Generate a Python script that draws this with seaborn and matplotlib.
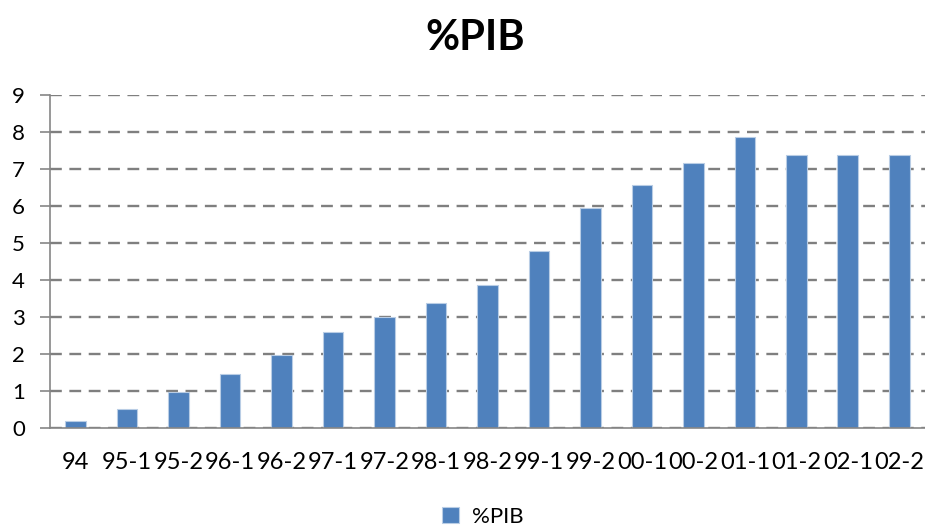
import seaborn as sns
import pandas as pd
from matplotlib import pyplot as plt

# data
periods = ['94', '95-1', '95-2', '96-1', '96-2', '97-1', '97-2', '98-1', '98-2',
           '99-1', '99-2', '00-1', '00-2', '01-1', '01-2', '02-1', '02-2']
pib = [0.20, 0.52, 0.98, 1.45, 1.96, 2.60, 3.01, 3.38, 3.85,
       4.79, 5.93, 6.56, 7.15, 7.86, 7.37, 7.37, 7.37]

df = pd.DataFrame({'Periodo': periods, '%PIB': pib})

sns.set_theme(style="white")
plt.rcParams['font.family'] = ['Lato', 'DejaVu Sans']
plt.rcParams['text.color'] = 'black'

fig = plt.figure(figsize=(9.25, 5.27), dpi=100)
ax = fig.add_axes([0.054, 0.188, 0.946, 0.632])

sns.barplot(data=df, x='Periodo', y='%PIB', color='#4F81BD', width=0.4,
            edgecolor='#B9CDE5', linewidth=0.8, saturation=1, label='%PIB', ax=ax)

ax.set(xlabel=None, ylabel=None)
ax.set_ylim(0, 9)
ax.set_xlim(-0.5, len(periods) - 0.5)
ax.set_yticks(range(0, 10))

# dashed gridlines
ax.yaxis.grid(True, linestyle=(0, (5, 3.2)), color='#7F7F7F', linewidth=1.7)
ax.set_axisbelow(True)

for side in ['top', 'right']:
    ax.spines[side].set_visible(False)
for side in ['left', 'bottom']:
    ax.spines[side].set_color('#868686')
    ax.spines[side].set_linewidth(1.2)

# tick marks between categories
ax.set_xticks([i - 0.5 for i in range(len(periods) + 1)], minor=True)
ax.tick_params(axis='x', which='minor', length=7, width=1.2, color='#868686', direction='out')
ax.tick_params(axis='x', which='major', length=0, labelsize=17, pad=17, labelcolor='black')
ax.tick_params(axis='y', which='major', length=7, width=1.2, color='#868686',
               direction='out', labelsize=16, labelcolor='black', left=True, pad=11)

fig.text(0.514, 0.928, '%PIB', ha='center', va='center', fontsize=30,
         fontweight='bold', color='black')

ax.legend().remove()
h, l = ax.get_legend_handles_labels()
fig.legend(h, l, loc='center', bbox_to_anchor=(0.522, 0.019), frameon=False,
           fontsize=16, handlelength=0.75, handleheight=0.75, handletextpad=0.6)

fig.savefig('out.png', dpi=100)
